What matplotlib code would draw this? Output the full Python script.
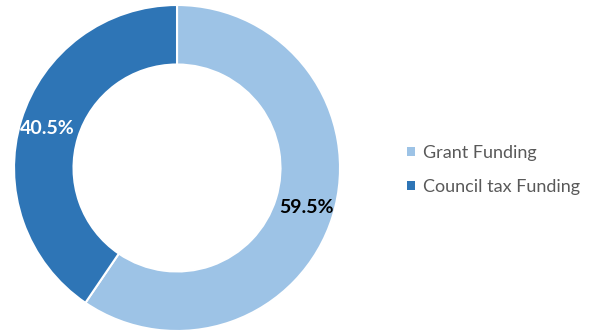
import matplotlib
matplotlib.use("Agg")
import matplotlib.pyplot as plt
from matplotlib.patches import Patch

plt.rcParams['font.family'] = ['Lato', 'DejaVu Sans']

# funding split
labels = ["Grant Funding", "Council tax Funding"]
values = [59.5, 40.5]
colors = ["#9DC3E6", "#2E75B6"]
label_colors = ["#000000", "#FFFFFF"]

fig = plt.figure(figsize=(6.02, 3.33), dpi=100)
ax = fig.add_axes([0.0233, 0.006, 0.5415, 0.979])

wedges, texts, autotexts = ax.pie(
    values, colors=colors, startangle=90, counterclock=False,
    autopct="%1.1f%%", pctdistance=0.83,
    wedgeprops=dict(width=0.365, edgecolor="white", linewidth=1.5),
    textprops=dict(fontsize=14, fontweight="bold"))
for t, c in zip(autotexts, label_colors):
    t.set_color(c)
ax.set_xlim(-1, 1)
ax.set_ylim(-1, 1)
ax.set_aspect("equal")

handles = [Patch(facecolor=c, edgecolor="none") for c in colors]
fig.legend(handles, labels, loc="center left", bbox_to_anchor=(0.676, 0.49),
           frameon=False, fontsize=13, labelcolor="#595959",
           borderpad=0, borderaxespad=0,
           handlelength=0.45, handleheight=0.45, handletextpad=0.45,
           labelspacing=1.0)

fig.savefig("out.png", dpi=100)
